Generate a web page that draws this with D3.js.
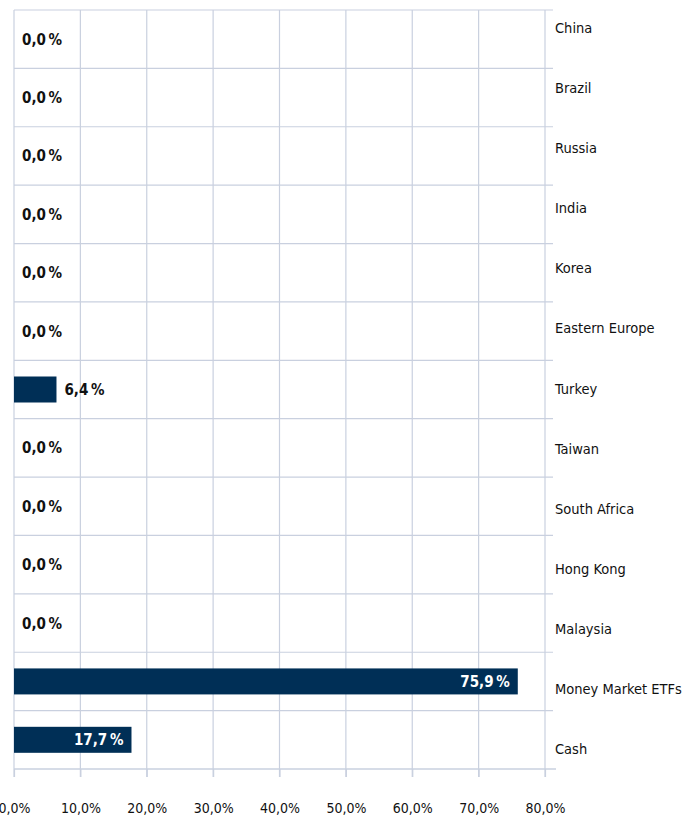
<!DOCTYPE html>
<html><head><meta charset="utf-8">
<script src="https://cdn.jsdelivr.net/npm/d3@7"></script>
<style>
body{margin:0;background:#fff;}
text{font-family:"DejaVu Sans Condensed","DejaVu Sans",sans-serif;font-stretch:condensed;}
</style></head><body>
<svg id="c" width="694" height="816"></svg>
<script>
const categories = ["China","Brazil","Russia","India","Korea","Eastern Europe","Turkey","Taiwan","South Africa","Hong Kong","Malaysia","Money Market ETFs","Cash"];
const values = [0,0,0,0,0,0,6.4,0,0,0,0,75.9,17.7];
const ticks = [0,10,20,30,40,50,60,70,80];
const fmt = v => v.toFixed(1).replace(".", ",") + "\u2009%";
const fmtTick = v => v.toFixed(1).replace(".", ",") + "%";

const svg = d3.select("#c");
const grid = "#c9d0df";
const barColor = "#002f56";
const x = d3.scaleLinear().domain([0,80]).range([14,545]);
const y = d3.scaleBand().domain(categories).range([10,769]).paddingInner(0).paddingOuter(0);
const yl = d3.scalePoint().domain(categories).range([28,749]);

svg.append("g").selectAll("line").data(categories).join("line")
  .attr("x1",x(0)).attr("x2",553).attr("y1",d=>y(d)).attr("y2",d=>y(d))
  .attr("stroke",grid).attr("stroke-width",1.2);
svg.append("g").selectAll("line").data(ticks).join("line")
  .attr("x1",d=>x(d)).attr("x2",d=>x(d)).attr("y1",10).attr("y2",777)
  .attr("stroke",grid).attr("stroke-width",1.2);
const ax = svg.append("g").attr("transform","translate(0,769)")
  .call(d3.axisBottom(x).tickValues(ticks).tickFormat(fmtTick).tickSize(8).tickPadding(26));
ax.select(".domain").attr("stroke",grid).attr("stroke-width",1.5).attr("d","M14,0H556");
ax.selectAll(".tick line").attr("stroke",grid).attr("stroke-width",1.2);
ax.selectAll(".tick text").attr("fill","#111").attr("font-size",14).attr("font-family","DejaVu Sans Condensed, DejaVu Sans, sans-serif");

const bh = 26;
svg.append("g").selectAll("rect").data(values).join("rect")
  .attr("x",x(0)).attr("y",(d,i)=>y(categories[i])+y.bandwidth()/2-bh/2)
  .attr("width",d=>x(d)-x(0)).attr("height",bh).attr("fill",barColor);

svg.append("g").selectAll("text").data(values).join("text")
  .attr("x",d=> d>=15 ? x(d)-8 : (d>0 ? x(d)+8 : 22))
  .attr("y",(d,i)=>y(categories[i])+y.bandwidth()/2+5.5)
  .attr("text-anchor",d=> d>=15 ? "end":"start")
  .attr("fill",d=> d>=15 ? "#fff":"#111")
  .attr("font-weight","bold").attr("font-size",15)
  .text(fmt);

svg.append("g").selectAll("text").data(categories).join("text")
  .attr("x",555).attr("y",d=>yl(d)+5)
  .attr("fill","#111").attr("font-size",14.5)
  .text(d=>d);
</script></body></html>
